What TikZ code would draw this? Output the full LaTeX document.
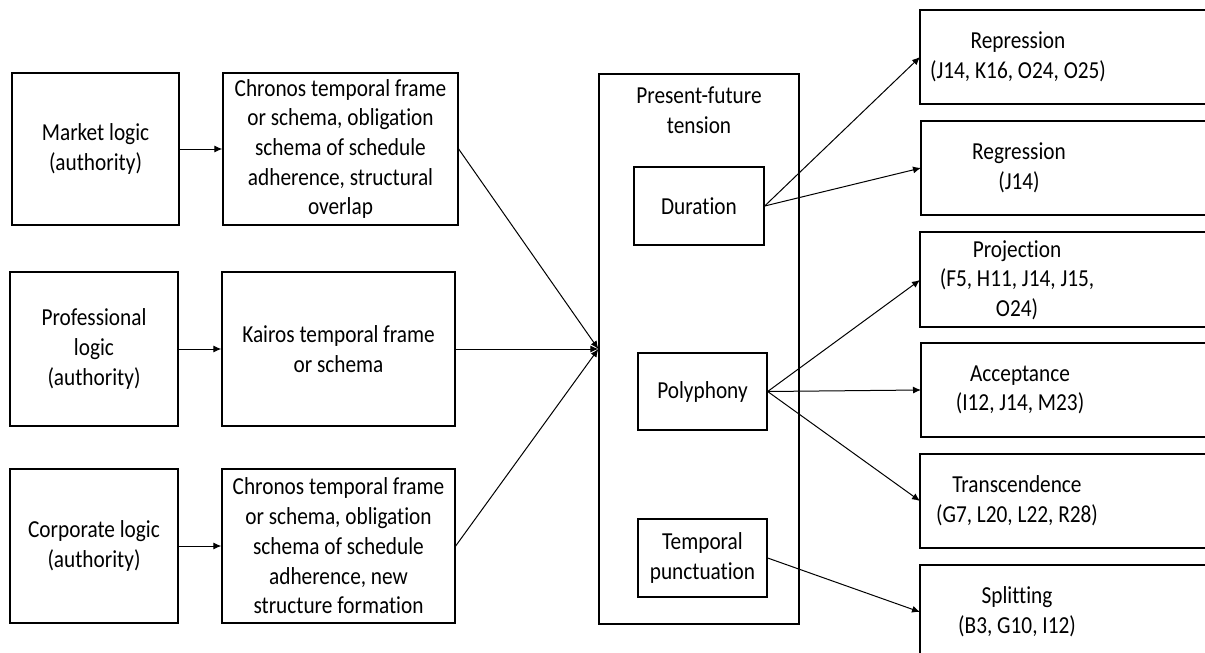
\documentclass[tikz,border=0pt]{standalone}
\usepackage{fontspec}
\setmainfont{Carlito}[FakeStretch=0.873, RawFeature={-liga;-clig;-calt;-dlig}]
\usetikzlibrary{arrows.meta}

\tikzset{
  txt/.style={font=\fontsize{24.4}{29.7}\selectfont, align=center, inner sep=0pt},
  box/.style={txt, draw, line width=1.3pt},
  openbox/.style={line width=1.3pt},
  conn/.style={line width=1pt, -{Latex[length=8pt,width=7pt]}},
}

\begin{document}
\begin{tikzpicture}[x=1pt, y=-1pt]
\useasboundingbox (0,0) rectangle (1205,653);
\clip (0,0) rectangle (1205,653);
\fill[white] (0,0) rectangle (1205,653);

% institutional logics
\node[box, minimum width=167pt, minimum height=152pt] (mkt) at (95.5,149) {Market logic\\(authority)};
\node[box, minimum width=168pt, minimum height=154pt] (prof) at (94,349) {Professional\\logic\\(authority)};
\node[box, minimum width=168pt, minimum height=154pt] (corp) at (94,546) {Corporate logic\\(authority)};

% temporal frames
\node[box, minimum width=235pt, minimum height=152pt] (chr1) at (340.5,149) {Chronos temporal frame\\or schema, obligation\\schema of schedule\\adherence, structural\\overlap};
\node[box, minimum width=233pt, minimum height=154pt] (kai) at (338.5,349) {Kairos temporal frame\\or schema};
\node[box, minimum width=233pt, minimum height=154pt] (chr2) at (338.5,546) {Chronos temporal frame\\or schema, obligation\\schema of schedule\\adherence, new\\structure formation};

% tension container
\node[box, minimum width=200pt, minimum height=550pt] (big) at (699,349) {};
\node[txt] (title) at (699,110) {Present-future\\tension};
\node[box, minimum width=130pt, minimum height=78pt] (dur) at (699,206) {Duration};
\node[box, minimum width=129pt, minimum height=77pt] (poly) at (702.5,391.5) {Polyphony};
\node[box, minimum width=129pt, minimum height=78pt] (tp) at (702.5,558) {Temporal\\punctuation};

% responses (boxes run off the right edge)
\draw[openbox] (1240,10) -- (920,10) -- (920,104) -- (1240,104);
\node[txt] (rep) at (1018,57) {Repression\\(J14, K16, O24, O25)};
\coordinate (repin) at (920,57);

\draw[openbox] (1240,121) -- (921,121) -- (921,215) -- (1240,215);
\node[txt] (reg) at (1019,168) {Regression\\(J14)};
\coordinate (regin) at (921,168);

\draw[openbox] (1240,232) -- (920,232) -- (920,327) -- (1240,327);
\node[txt] (proj) at (1017,280) {Projection\\(F5, H11, J14, J15,\\O24)};
\coordinate (projin) at (920,280);

\draw[openbox] (1240,343) -- (921,343) -- (921,437) -- (1240,437);
\node[txt] (acc) at (1020,390) {Acceptance\\(I12, J14, M23)};
\coordinate (accin) at (921,390);

\draw[openbox] (1240,454) -- (920,454) -- (920,548) -- (1240,548);
\node[txt] (tra) at (1017,501) {Transcendence\\(G7, L20, L22, R28)};
\coordinate (train) at (920,501);

\draw[openbox] (1240,565) -- (920,565) -- (920,680);
\node[txt] (spl) at (1017,612) {Splitting\\(B3, G10, I12)};
\coordinate (splin) at (920,612);

% connectors
\draw[conn] (mkt.east) -- (chr1.west);
\draw[conn] (prof.east) -- (kai.west);
\draw[conn] (corp.east) -- (chr2.west);

\draw[conn] (chr1.east) -- (big.west);
\draw[conn] (kai.east) -- (big.west);
\draw[conn] (chr2.east) -- (big.west);

\draw[conn] (dur.east) -- (repin);
\draw[conn] (dur.east) -- (regin);
\draw[conn] (poly.east) -- (projin);
\draw[conn] (poly.east) -- (accin);
\draw[conn] (poly.east) -- (train);
\draw[conn] (tp.east) -- (splin);
\end{tikzpicture}
\end{document}
